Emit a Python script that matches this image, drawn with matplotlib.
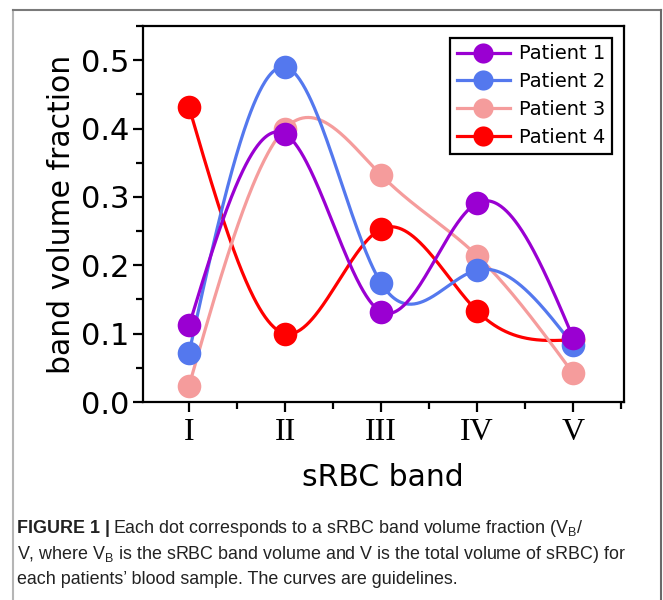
import numpy as np
import matplotlib
matplotlib.use('Agg')
import matplotlib.pyplot as plt
from matplotlib.lines import Line2D
from matplotlib.ticker import MultipleLocator, FixedLocator
from matplotlib import font_manager

bands = ['I', 'II', 'III', 'IV', 'V']
patient1 = [0.112, 0.392, 0.132, 0.291, 0.094]
patient2 = [0.072, 0.490, 0.174, 0.193, 0.083]
patient3 = [0.024, 0.400, 0.332, 0.214, 0.042]
patient4 = [0.431, 0.100, 0.253, 0.133, 0.091]
labels = ['Patient 1', 'Patient 2', 'Patient 3', 'Patient 4']
colors = ['#9A00D2', '#5478EE', '#F59C9C', '#FF0000']


def natural_spline(x, y, xs):
    x = np.asarray(x, float)
    y = np.asarray(y, float)
    n = len(x)
    h = np.diff(x)
    A = np.zeros((n, n))
    b = np.zeros(n)
    A[0, 0] = 1
    A[-1, -1] = 1
    for i in range(1, n - 1):
        A[i, i - 1] = h[i - 1]
        A[i, i] = 2 * (h[i - 1] + h[i])
        A[i, i + 1] = h[i]
        b[i] = 6 * ((y[i + 1] - y[i]) / h[i] - (y[i] - y[i - 1]) / h[i - 1])
    M = np.linalg.solve(A, b)
    idx = np.clip(np.searchsorted(x, xs) - 1, 0, n - 2)
    x0, x1 = x[idx], x[idx + 1]
    hh = x1 - x0
    t0 = x1 - xs
    t1 = xs - x0
    return (M[idx] * t0 ** 3 / (6 * hh) + M[idx + 1] * t1 ** 3 / (6 * hh)
            + (y[idx] / hh - M[idx] * hh / 6) * t0
            + (y[idx + 1] / hh - M[idx + 1] * hh / 6) * t1)


W, H = 663, 600
fig = plt.figure(figsize=(W / 100, H / 100), dpi=100)
fig.patch.set_facecolor('white')

ax_l, ax_r, ax_t, ax_b = 143, 624, 26, 402
ax = fig.add_axes([ax_l / W, 1 - ax_b / H, (ax_r - ax_l) / W, (ax_b - ax_t) / H])

xpos = np.arange(1, len(bands) + 1)
xs = np.linspace(1, len(bands), 400)
series = [patient1, patient2, patient3, patient4]

for k in range(3, -1, -1):
    z = 10 + (3 - k) * 2
    ax.plot(xs, natural_spline(xpos, series[k], xs), color=colors[k], lw=2.3, zorder=z,
            solid_capstyle='round')
    ax.plot(xpos, series[k], 'o', ms=17, color=colors[k], mec='none', zorder=z + 1)

ax.set_xlim(0.52, 5.53)
ax.set_ylim(0, 0.55)
ax.set_xticks(xpos)
ax.set_xticklabels(bands)
ax.xaxis.set_minor_locator(MultipleLocator(0.5))
ax.yaxis.set_major_locator(MultipleLocator(0.1))
ax.yaxis.set_minor_locator(MultipleLocator(0.05))
ax.yaxis.set_major_formatter(matplotlib.ticker.FormatStrFormatter('%.1f'))

for s in ax.spines.values():
    s.set_linewidth(1.6)
    s.set_color('black')
ax.tick_params(which='major', direction='out', length=7.5, width=1.6, labelsize=22, pad=2)
ax.tick_params(which='minor', direction='out', length=5, width=1.6)
ax.tick_params(axis='x', which='major', labelsize=23, pad=4)
for lbl in ax.get_xticklabels():
    lbl.set_fontfamily(['Liberation Serif', 'DejaVu Serif'])

handles = [Line2D([], [], color=c, lw=2.3, marker='o', ms=14.5, mec='none') for c in colors]
leg = ax.legend(handles, labels, loc='upper right', fontsize=14, frameon=True, fancybox=False,
                edgecolor='black', framealpha=1, handlelength=2.7, handletextpad=0.5,
                borderpad=0.35, labelspacing=0.45, borderaxespad=0.6)
leg.get_frame().set_linewidth(1.6)
leg.set_zorder(30)

fig.text(62 / W, 1 - 214 / H, 'band volume fraction', rotation=90, ha='center', va='center',
         fontsize=21.5)
fig.text(383 / W, 1 - 478 / H, 'sRBC band', ha='center', va='center', fontsize=21.5)

# outer frame
fig.add_artist(Line2D([12.5 / W, 12.5 / W], [-0.02, 1 - 9.5 / H], transform=fig.transFigure,
                      color='#b5b5b5', lw=1.5))
fig.add_artist(Line2D([12.5 / W, 660.5 / W], [1 - 9.5 / H, 1 - 9.5 / H], transform=fig.transFigure,
                      color='#7a7a7a', lw=1.5))
fig.add_artist(Line2D([660.5 / W, 660.5 / W], [-0.02, 1 - 9.5 / H], transform=fig.transFigure,
                      color='#6a6a6a', lw=1.5))

# caption
names = {f.name for f in font_manager.fontManager.ttflist}
if 'Liberation Sans Narrow' in names:
    cfont = 'Liberation Sans Narrow'
    csize = 14.9
else:
    cfont = 'Liberation Sans'
    csize = 12.9
plt.rcParams['mathtext.fontset'] = 'custom'
plt.rcParams['mathtext.rm'] = cfont
plt.rcParams['mathtext.it'] = cfont

cx = 17 / W
y1, y2, y3 = 1 - 533 / H, 1 - 559 / H, 1 - 584 / H
t_bold = fig.text(cx, y1, 'FIGURE 1 |', fontsize=csize, fontweight='bold', family=cfont,
                  va='baseline', color='#222222')
fig.canvas.draw()
bb = t_bold.get_window_extent()
fig.text(bb.x1 / W + 3 / W, y1,
         r'Each dot corresponds to a sRBC band volume fraction (V$_\mathrm{B}$/',
         fontsize=csize, family=cfont, va='baseline', color='#222222')
fig.text(cx, y2,
         r'V, where V$_\mathrm{B}$ is the sRBC band volume and V is the total volume of sRBC) for',
         fontsize=csize, family=cfont, va='baseline', color='#222222')
fig.text(cx, y3, "each patients\u2019 blood sample. The curves are guidelines.",
         fontsize=csize, family=cfont, va='baseline', color='#222222')

fig.savefig('out.png', dpi=100)
